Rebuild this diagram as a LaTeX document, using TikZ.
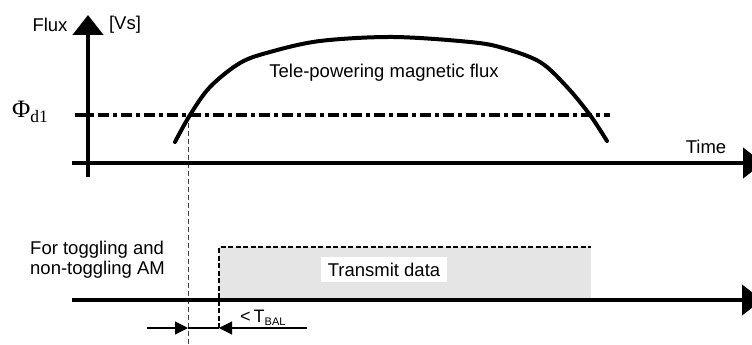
\documentclass[tikz,border=0pt]{standalone}
\usepackage{fontspec}
\setmainfont{Liberation Sans}
\newfontfamily\serifgr{Liberation Serif}
\usetikzlibrary{arrows.meta}
\begin{document}
\begin{tikzpicture}[x=1pt,y=-1pt,
  axis/.style={line width=4.5pt, -{Triangle[length=20pt,width=30pt]}},
  lbl/.style={font=\fontsize{18.5}{20}\selectfont, inner sep=0pt},
  dimarrow/.style={line width=1.2pt, -{Triangle[length=13pt,width=13pt]}},
  dashdot/.style={line width=3.2pt, dash pattern=on 11pt off 4pt on 4pt off 4pt},
  guide/.style={line width=0.9pt, draw=black!75, dash pattern=on 5pt off 3pt},
  boxedge/.style={line width=1.6pt, dash pattern=on 5pt off 2.5pt},
  flux/.style={line width=4pt, line cap=round}
]
\useasboundingbox (0,0) rectangle (752,345);
\clip (0,0) rectangle (752,345);

% coordinates
\coordinate (vb) at (88,177);
\coordinate (vt) at (88,15);
\coordinate (hl) at (72,163);
\coordinate (hr) at (763,163);
\coordinate (bl) at (72,300);
\coordinate (br) at (762,300);
\coordinate (ddl) at (75,115);
\coordinate (ddr) at (610,115);
\coordinate (gt) at (188,115);
\coordinate (gb) at (188,345);
\coordinate (bxbl) at (219,300);
\coordinate (bxtr) at (591,247);
\coordinate (bxtl) at (219,247);
\coordinate (bxd) at (219,328);
\coordinate (dl) at (147,328);
\coordinate (dm) at (188,328);
\coordinate (dr) at (307,328);

% gray transmit box
\fill[black!10] (bxbl) rectangle (bxtr);
\draw[boxedge] (bxd) -- (bxtl) -- (bxtr);
\node[lbl, fill=white, minimum height=25pt, inner xsep=7pt] (tx) at (384,269.5) {Transmit data};

% guide line
\draw[guide] (gt) -- (gb);

% threshold line
\draw[dashdot] (ddl) -- (ddr);

% flux curve
\draw[flux] plot[smooth, tension=0.55] coordinates {(175,142) (190,115) (210,87) (240,63) (270,52) (320,41) (393,37) (470,42) (503,48) (540,62) (567,87) (590,115) (607,141)};

% axes
\draw[axis] (vb) -- (vt);
\draw[axis] (hl) -- (hr);
\draw[axis] (bl) -- (br);

% dimension arrows
\draw[dimarrow] (dl) -- (dm);
\draw[line width=1.2pt] (dm) -- (bxd);
\draw[dimarrow] (dr) -- (bxd);

% labels
\node[lbl] (flux) at (50,25) {Flux};
\node[lbl] (vs) at (125,25) {[Vs]};
\node[lbl] (time) at (706,147) {Time};
\node[lbl] (tele) at (384,73) {Tele-powering magnetic flux};
\node[lbl, align=left, anchor=west] (mode) at (30,260) {For toggling and\\non-toggling AM};
\node[inner sep=0pt, anchor=west] (phi) at (12,112) {\serifgr\fontsize{25}{25}\selectfont Φ\raisebox{-0.22em}{\fontsize{17.5}{17.5}\selectfont d1}};
\node[inner sep=0pt, anchor=west] (tbal) at (240,318) {\fontsize{18}{18}\selectfont <\,T\raisebox{-0.35ex}{\fontsize{11}{11}\selectfont BAL}};
\end{tikzpicture}
\end{document}
